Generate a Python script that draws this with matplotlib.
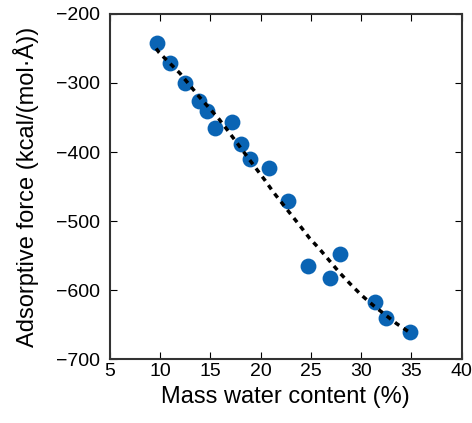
import matplotlib
matplotlib.use("Agg")
import matplotlib.pyplot as plt

plt.rcParams["font.family"] = ["Liberation Sans", "DejaVu Sans"]

# scatter data
water = [9.64, 10.96, 12.46, 13.88, 14.68, 15.47, 17.19, 18.09, 18.98, 20.84,
         22.73, 24.72, 26.87, 27.93, 31.34, 32.5, 34.89]
force = [-241.6, -271.4, -300.5, -325.6, -340.1, -365.7, -356.1, -388.9, -410.6, -422.7,
         -470.5, -565.2, -583.1, -547.8, -617.0, -640.1, -661.3]

# fitted trend line
fit_x = [9.6, 9.9, 11.96, 13.88, 15.87, 16.76, 19.41, 20.41, 21.23, 23.06, 23.99,
         24.88, 25.81, 27.86, 28.93, 30.02, 31.17, 33.5, 34.9]
fit_y = [-250, -256.1, -285.9, -319.9, -352.6, -369.6, -421.3, -440.6, -457.5, -491.3, -508.3,
         -525.1, -539.6, -574.9, -591.3, -607.2, -621.7, -648.3, -662]

fig = plt.figure(figsize=(4.72, 4.23), dpi=100)
ax = fig.add_axes([0.233, 0.151, 0.745, 0.816])

ax.scatter(water, force, s=130, color="#0a64b4", zorder=2, linewidths=0)
ax.plot(fit_x, fit_y, color="black", lw=2.5, dashes=(1.5, 1.5), zorder=3)

ax.set_xlim(5, 40)
ax.set_ylim(-700, -200)
ax.set_xticks(range(5, 41, 5))
ax.set_yticks(range(-700, -199, 100))
ax.tick_params(direction="in", top=True, right=True, length=5, labelsize=14)
ax.tick_params(axis="x", pad=3)
ax.tick_params(axis="y", pad=7)
for sp in ax.spines.values():
    sp.set_linewidth(1.5)
    sp.set_color("#333333")

ax.set_xlabel("Mass water content (%)", fontsize=17, labelpad=4)
ax.set_ylabel("Adsorptive force (kcal/(mol·Å))", fontsize=17, labelpad=12)

fig.savefig("out.png", dpi=100)
